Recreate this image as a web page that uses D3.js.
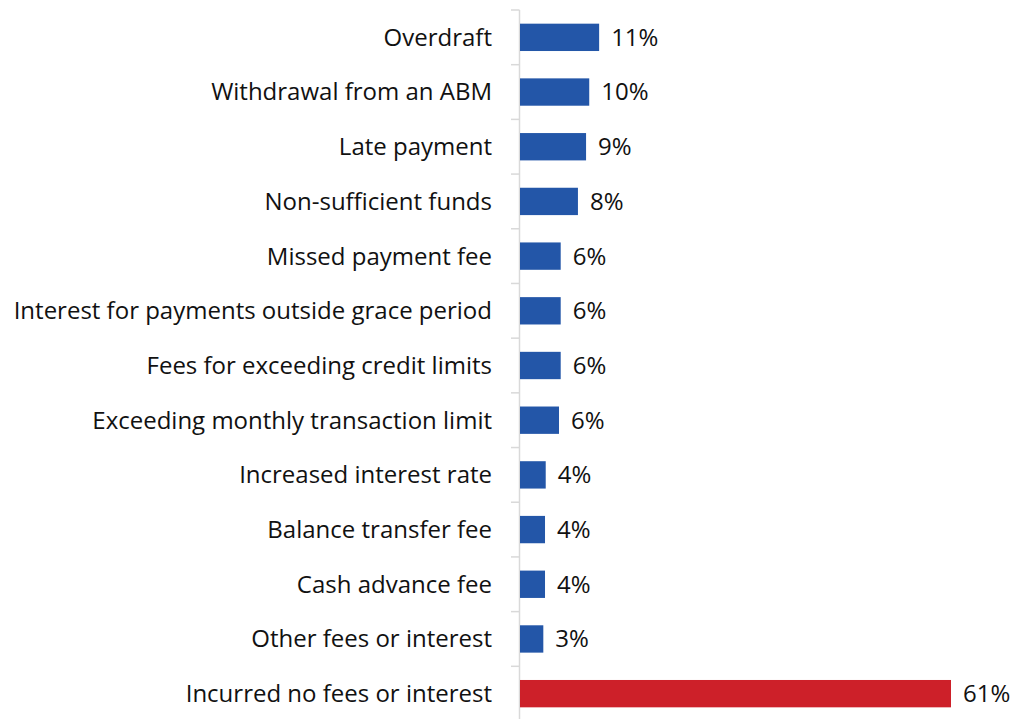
<!DOCTYPE html>
<html>
<head>
<meta charset="utf-8">
<script src="https://cdn.jsdelivr.net/npm/d3@7"></script>
<style>
  html, body { margin: 0; padding: 0; background: #fff; }
  svg { display: block; }
  text { font-family: "Open Sans", sans-serif; fill: #111; }
</style>
</head>
<body>
<svg id="chart" width="1012" height="719"></svg>
<script>
const categories = [
  "Overdraft",
  "Withdrawal from an ABM",
  "Late payment",
  "Non-sufficient funds",
  "Missed payment fee",
  "Interest for payments outside grace period",
  "Fees for exceeding credit limits",
  "Exceeding monthly transaction limit",
  "Increased interest rate",
  "Balance transfer fee",
  "Cash advance fee",
  "Other fees or interest",
  "Incurred no fees or interest"
];
const values = [11.2, 9.8, 9.35, 8.2, 5.76, 5.76, 5.76, 5.52, 3.64, 3.54, 3.54, 3.3, 61.0];
const valueLabels = ["11%", "10%", "9%", "8%", "6%", "6%", "6%", "6%", "4%", "4%", "4%", "3%", "61%"];
const barColors = ["#2356a8", "#2356a8", "#2356a8", "#2356a8", "#2356a8", "#2356a8", "#2356a8", "#2356a8", "#2356a8", "#2356a8", "#2356a8", "#2356a8", "#cd2029"];

const svg = d3.select("#chart");
const x0 = 520;
const x = d3.scaleLinear().domain([0, 61]).range([x0, 951]);
const y = d3.scaleBand().domain(categories).range([10, 721]).paddingInner(0.5).paddingOuter(0.25);

// axis line
svg.append("line")
  .attr("x1", x0 - 0.5).attr("x2", x0 - 0.5)
  .attr("y1", 10).attr("y2", 721)
  .attr("stroke", "#d9d9d9").attr("stroke-width", 1.5);

// tick marks at band boundaries
const boundaries = d3.range(categories.length + 1).map(i => 10 + i * (711 / categories.length));
svg.selectAll("line.tick").data(boundaries).enter().append("line")
  .attr("class", "tick")
  .attr("x1", x0 - 9).attr("x2", x0 - 0.5)
  .attr("y1", d => d).attr("y2", d => d)
  .attr("stroke", "#d9d9d9").attr("stroke-width", 1.5);

// bars
svg.selectAll("rect.bar").data(categories).enter().append("rect")
  .attr("class", "bar")
  .attr("x", x(0))
  .attr("y", d => y(d))
  .attr("width", (d, i) => x(values[i]) - x(0))
  .attr("height", y.bandwidth())
  .attr("fill", (d, i) => barColors[i]);

// category labels
svg.selectAll("text.cat").data(categories).enter().append("text")
  .attr("class", "cat")
  .attr("x", 492)
  .attr("y", d => y(d) + y.bandwidth() / 2)
  .attr("dy", "0.35em")
  .attr("text-anchor", "end")
  .attr("font-size", 24)
  .text(d => d);

// value labels
svg.selectAll("text.val").data(categories).enter().append("text")
  .attr("class", "val")
  .attr("x", (d, i) => x(values[i]) + 12)
  .attr("y", d => y(d) + y.bandwidth() / 2)
  .attr("dy", "0.35em")
  .attr("font-size", 24)
  .text((d, i) => valueLabels[i]);
</script>
</body>
</html>
